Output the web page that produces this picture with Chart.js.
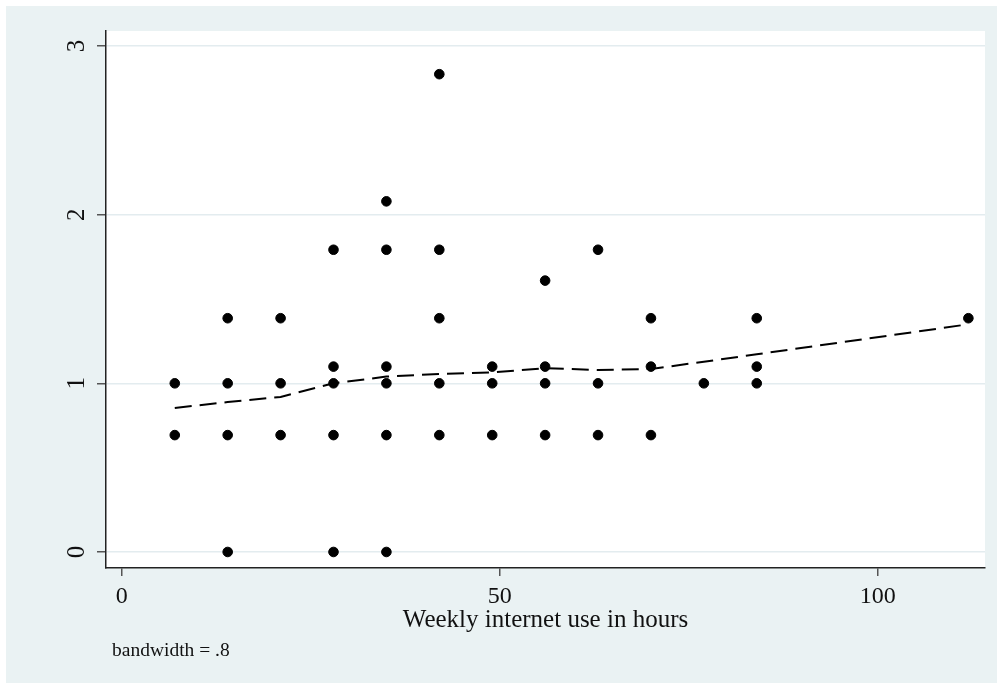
<!DOCTYPE html>
<html>
<head>
<meta charset="utf-8">
<script src="https://cdn.jsdelivr.net/npm/chart.js@4/dist/chart.umd.min.js"></script>
<style>
  html, body { margin: 0; padding: 0; background: #fff; }
  #wrap { width: 997px; height: 683px; position: relative; }
</style>
</head>
<body>
<div id="wrap"><canvas id="chart" width="997" height="683"></canvas></div>
<script>
// weekly internet hours (x) and log outcome (y), one entry per dot
const hoursX = [7, 7,
  14, 14, 14, 14,
  21, 21, 21,
  28, 28, 28, 28, 28,
  35, 35, 35, 35, 35, 35,
  42, 42, 42, 42, 42,
  49, 49, 49,
  56, 56, 56, 56,
  63, 63, 63,
  70, 70, 70,
  77,
  84, 84, 84,
  112]
const logY = [1.0, 0.693,
  1.386, 1.0, 0.693, 0,
  1.386, 1.0, 0.693,
  1.792, 1.099, 1.0, 0.693, 0,
  2.079, 1.792, 1.099, 1.0, 0.693, 0,
  2.833, 1.792, 1.386, 1.0, 0.693,
  1.099, 1.0, 0.693,
  1.609, 1.099, 1.0, 0.693,
  1.792, 1.0, 0.693,
  1.386, 1.099, 0.693,
  1.0,
  1.386, 1.099, 1.0,
  1.386]

// lowess smooth
const lowessX = [7, 14, 21, 28, 35, 42, 49, 56, 63, 70, 77, 84, 112]
const lowessY = [0.854, 0.889, 0.919, 1.0, 1.04, 1.055, 1.065, 1.09, 1.079, 1.085, 1.128, 1.172, 1.35]

const xTicks = [0, 50, 100]
const yTicks = [0, 1, 2, 3]
const xTitle = 'Weekly internet use in hours'
const note = 'bandwidth = .8'

const serif = "'Liberation Serif', 'Times New Roman', serif"

const points = hoursX.map((x, i) => ({x: x, y: logY[i]}))
const smooth = lowessX.map((x, i) => ({x: x, y: lowessY[i]}))

const stataBg = {
  id: 'stataBg',
  beforeDraw(chart) {
    const c = chart.ctx
    const a = chart.chartArea
    c.save()
    c.fillStyle = '#EAF2F3'
    c.fillRect(6, 6, chart.width - 6, chart.height - 6)
    c.fillStyle = '#ffffff'
    c.fillRect(a.left, a.top, a.right - a.left, a.bottom - a.top)
    c.restore()
  },
  afterDraw(chart) {
    const c = chart.ctx
    c.save()
    c.fillStyle = '#111'
    c.font = '19.5px ' + serif
    c.textBaseline = 'alphabetic'
    c.textAlign = 'left'
    c.fillText(note, 112, 656)
    c.restore()
  }
}

const ctx = document.getElementById('chart').getContext('2d')
const myChart = new Chart(ctx, {
  type: 'scatter',
  data: {
    datasets: [{
      label: 'obs',
      data: points,
      backgroundColor: '#000',
      borderColor: '#000',
      pointRadius: 4.8,
      pointHoverRadius: 4.8,
      order: 2
    }, {
      type: 'line',
      label: 'lowess',
      data: smooth,
      borderColor: '#000',
      borderWidth: 2,
      borderDash: [17, 8],
      pointRadius: 0,
      fill: false,
      tension: 0,
      order: 1
    }]
  },
  options: {
    responsive: false,
    animation: false,
    devicePixelRatio: 1,
    layout: { padding: { left: 0, top: 31, right: 12, bottom: 0 } },
    plugins: {
      legend: { display: false },
      tooltip: { enabled: false }
    },
    scales: {
      x: {
        type: 'linear',
        min: -2.1,
        max: 114.2,
        afterBuildTicks: s => { s.ticks = xTicks.map(v => ({value: v})) },
        afterFit: s => { s.height = 115 },
        grid: { drawOnChartArea: false, drawTicks: true, tickLength: 8, tickColor: '#555', lineWidth: 1.5 },
        border: { display: true, color: '#222', width: 1.5 },
        ticks: { color: '#111', font: { family: serif, size: 24 }, padding: 6, maxRotation: 0 },
        title: { display: true, text: xTitle, color: '#111', font: { family: serif, size: 25 }, padding: { top: 0, bottom: 48 } }
      },
      y: {
        type: 'linear',
        min: -0.095,
        max: 3.089,
        afterBuildTicks: s => { s.ticks = yTicks.map(v => ({value: v})) },
        afterFit: s => { s.width = 106 },
        grid: { color: '#E3ECEF', lineWidth: 1.5, drawTicks: true, tickLength: 9, tickColor: '#555' },
        border: { display: true, color: '#222', width: 1.5 },
        ticks: { color: '#111', font: { family: serif, size: 25 }, padding: 13, minRotation: 90, maxRotation: 90, crossAlign: 'center' }
      }
    }
  },
  plugins: [stataBg]
})
</script>
</body>
</html>
